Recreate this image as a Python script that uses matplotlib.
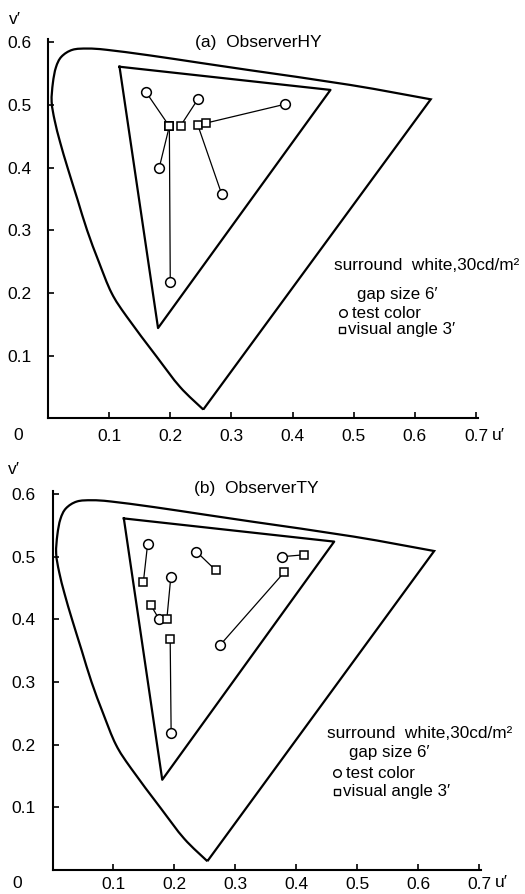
import matplotlib
matplotlib.use("Agg")
import matplotlib.pyplot as plt
from matplotlib.path import Path
from matplotlib.patches import PathPatch
import numpy as np

plt.rcParams['font.family'] = ['Liberation Sans', 'DejaVu Sans']

# spectral locus (u', v'), from 380 nm round to 700 nm
locus_u = [0.254, 0.216, 0.178, 0.129, 0.104, 0.083, 0.064, 0.048, 0.032, 0.020, 0.011,
           0.006, 0.008, 0.013, 0.022, 0.040, 0.065, 0.096, 0.167, 0.250, 0.330, 0.494,
           0.626]
locus_v = [0.014, 0.050, 0.098, 0.162, 0.200, 0.250, 0.300, 0.350, 0.400, 0.440, 0.475,
           0.505, 0.535, 0.560, 0.577, 0.588, 0.590, 0.588, 0.579, 0.567, 0.5555, 0.532,
           0.509]

# display gamut triangle
gamut_u = [0.117, 0.462, 0.180, 0.117]
gamut_v = [0.561, 0.524, 0.144, 0.561]

# (a) observer HY: test colors and matched colors (one pair per row)
test_u_a = [0.160, 0.182, 0.200, 0.245, 0.284, 0.387]
test_v_a = [0.521, 0.400, 0.218, 0.509, 0.358, 0.501]
match_u_a = [0.1985, 0.1985, 0.1985, 0.217, 0.245, 0.258]
match_v_a = [0.466, 0.466, 0.466, 0.467, 0.468, 0.471]

# (b) observer TY
test_u_b = [0.156, 0.236, 0.377, 0.275, 0.194, 0.175, 0.1946]
test_v_b = [0.520, 0.508, 0.500, 0.359, 0.467, 0.400, 0.218]
match_u_b = [0.149, 0.268, 0.413, 0.380, 0.1875, 0.161, 0.193]
match_v_b = [0.459, 0.478, 0.503, 0.475, 0.400, 0.423, 0.369]

xticks = [0.1, 0.2, 0.3, 0.4, 0.5, 0.6, 0.7]
yticks = [0.1, 0.2, 0.3, 0.4, 0.5, 0.6]


def locus_path():
    # smooth curve through the read points (catmull-rom as bezier), purple line straight
    p = np.column_stack([locus_u, locus_v])
    n = len(p)
    verts = [p[0]]
    codes = [Path.MOVETO]
    for i in range(n - 1):
        p0 = p[max(i - 1, 0)]
        p1 = p[i]
        p2 = p[i + 1]
        p3 = p[min(i + 2, n - 1)]
        verts += [p1 + (p2 - p0) / 6, p2 - (p3 - p1) / 6, p2]
        codes += [Path.CURVE4] * 3
    verts.append(p[0])
    codes.append(Path.LINETO)
    return Path(verts, codes)


fig = plt.figure(figsize=(5.25, 8.94), dpi=100)
ax_a = fig.add_axes([0.0914, 0.5321, 0.8187, 0.4241])
ax_b = fig.add_axes([0.1000, 0.02685, 0.8164, 0.4241])


def draw_panel(ax, title, tu, tv, mu, mv, pos, xpad):
    ax.add_patch(PathPatch(locus_path(), fill=False, ec='black', lw=1.6, joinstyle='miter'))
    ax.plot(gamut_u, gamut_v, color='black', lw=1.6)
    for i in range(len(tu)):
        ax.plot([tu[i], mu[i]], [tv[i], mv[i]], color='black', lw=0.9, zorder=2)
    ax.plot(tu, tv, 'o', ms=7, mfc='white', mec='black', mew=1.1, zorder=3)
    ax.plot(mu, mv, 's', ms=6.3, mfc='white', mec='black', mew=1.1, zorder=3)

    ax.set_xlim(0, 0.703)
    ax.set_ylim(0, 0.605)
    ax.set_xticks(xticks)
    ax.set_xticklabels([f'{t:.1f}' for t in xticks])
    ax.set_yticks(yticks)
    ax.set_yticklabels([f'{t:.1f}' for t in yticks])
    ax.tick_params(direction='in', length=4, width=1.2, labelsize=12.5)
    ax.tick_params(axis='x', pad=xpad)
    ax.tick_params(axis='y', pad=12)
    for s in ['top', 'right']:
        ax.spines[s].set_visible(False)
    for s in ['left', 'bottom']:
        ax.spines[s].set_linewidth(1.5)

    ax.text(pos['title'][0], pos['title'][1], title, fontsize=12.5, ha='center', va='center')
    ax.text(pos['zero'][0], pos['zero'][1], '0', fontsize=12.5, ha='center', va='center', clip_on=False)
    ax.text(pos['u'][0], pos['u'][1], 'u′', fontsize=12.5, ha='center', va='center', clip_on=False)
    ax.text(pos['v'][0], pos['v'][1], 'v′', fontsize=12.5, ha='center', va='center', clip_on=False)

    # hand-written legend
    ax.text(pos['surround'][0], pos['surround'][1], 'surround  white,30cd/m²', fontsize=12.4,
            ha='left', va='center', clip_on=False)
    ax.text(pos['gap'][0], pos['gap'][1], 'gap size 6′', fontsize=12.2, ha='left', va='center')
    ax.plot([pos['circ'][0]], [pos['circ'][1]], 'o', ms=5.5, mfc='white', mec='black', mew=1.0)
    ax.text(pos['circ'][0] + 0.014, pos['circ'][1], 'test color', fontsize=12.2, ha='left', va='center')
    ax.plot([pos['sq'][0]], [pos['sq'][1]], 's', ms=5, mfc='white', mec='black', mew=1.0)
    ax.text(pos['sq'][0] + 0.010, pos['sq'][1], 'visual angle 3′', fontsize=12.2, ha='left', va='center')


pos_a = {'title': (0.3435, 0.600), 'zero': (-0.049, -0.028), 'u': (0.736, -0.028),
         'v': (-0.054, 0.636), 'surround': (0.468, 0.2445), 'gap': (0.505, 0.198),
         'circ': (0.4825, 0.168), 'sq': (0.481, 0.141)}
pos_b = {'title': (0.335, 0.609), 'zero': (-0.0587, -0.021), 'u': (0.737, -0.0196),
         'v': (-0.064, 0.639), 'surround': (0.450, 0.218), 'gap': (0.487, 0.187),
         'circ': (0.467, 0.154), 'sq': (0.466, 0.125)}

draw_panel(ax_a, '(a)  ObserverHY', test_u_a, test_v_a, match_u_a, match_v_a, pos_a, 7.5)
draw_panel(ax_b, '(b)  ObserverTY', test_u_b, test_v_b, match_u_b, match_v_b, pos_b, 5.0)

fig.savefig('out.png', dpi=100)
